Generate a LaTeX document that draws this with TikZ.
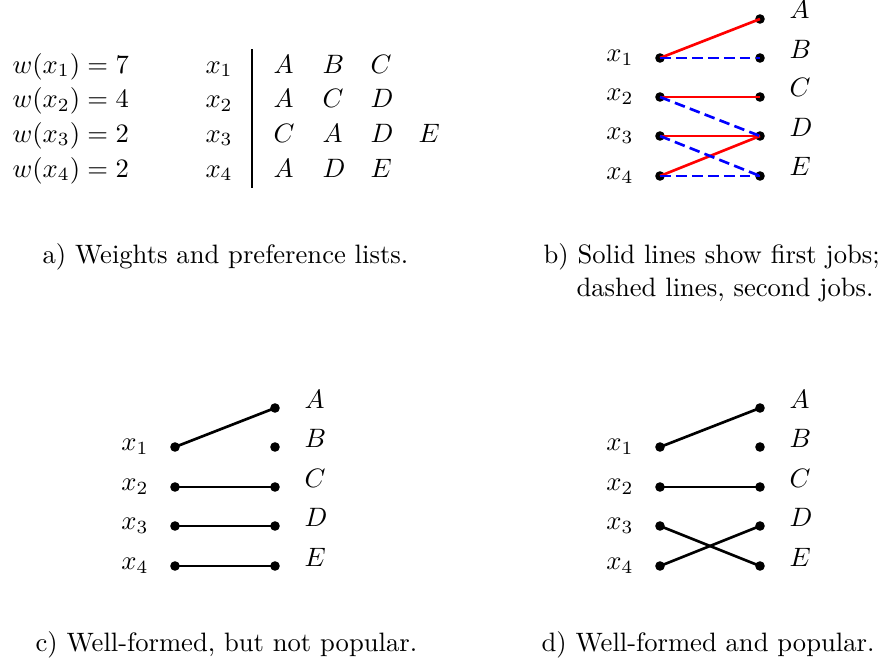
\documentclass[tikz,border=0pt]{standalone}
\begin{document}
\begin{tikzpicture}[x=0.3758pt,y=-0.3758pt,
  txt/.style={inner sep=0pt, anchor=base west},
  ltxt/.style={inner sep=0pt, anchor=base east},
  dot/.style={circle, fill=black, inner sep=0pt, minimum size=3.6pt},
  redline/.style={red, line width=1pt},
  blueline/.style={blue, line width=1pt, dash pattern=on 4pt off 2pt},
  blackline/.style={black, line width=1pt},
  rule/.style={black, line width=0.9pt}]
\useasboundingbox (0,0) rectangle (881,663);

% ---------- panel a ----------
\node[txt] (w1) at (12,73)    {$w(x_1) = 7$};
\node[txt] (w2) at (12,107.5) {$w(x_2) = 4$};
\node[txt] (w3) at (12,142)   {$w(x_3) = 2$};
\node[txt] (w4) at (12,177)   {$w(x_4) = 2$};
\node[txt] (p1) at (205,73)    {$x_1$};
\node[txt] (p2) at (205,107.5) {$x_2$};
\node[txt] (p3) at (205,142)   {$x_3$};
\node[txt] (p4) at (205,177)   {$x_4$};
\coordinate (rtop) at (252,49);
\coordinate (rbot) at (252,188);
\draw[rule] (rtop) -- (rbot);
\node[txt] (l11) at (273,73) {$A$};
\node[txt] (l12) at (322,73) {$B$};
\node[txt] (l13) at (370,73) {$C$};
\node[txt] (l21) at (273,107.5) {$A$};
\node[txt] (l22) at (322,107.5) {$C$};
\node[txt] (l23) at (370,107.5) {$D$};
\node[txt] (l31) at (273,142) {$C$};
\node[txt] (l32) at (322,142) {$A$};
\node[txt] (l33) at (370,142) {$D$};
\node[txt] (l34) at (418,142) {$E$};
\node[txt] (l41) at (273,177) {$A$};
\node[txt] (l42) at (322,177) {$D$};
\node[txt] (l43) at (370,177) {$E$};
\node[txt] (capa) at (42,263) {a) Weights and preference lists.};

% ---------- panel b ----------
\foreach \n/\y in {1/58,2/97,3/136,4/176}{
  \node[dot] (bx\n) at (660,\y) {};
  \node[ltxt] (bxl\n) at (634,\y+3.5) {$x_\n$};
}
\foreach \n/\y in {A/19,B/58,C/97,D/136,E/176}{
  \node[dot] (b\n) at (760,\y) {};
  \node[txt] (bl\n) at (789,\y) {$\n$};
}
\draw[redline] (bx1.center) -- (bA.center);
\draw[redline] (bx2.center) -- (bC.center);
\draw[redline] (bx3.center) -- (bD.center);
\draw[redline] (bx4.center) -- (bD.center);
\draw[blueline] (bx1.center) -- (bB.center);
\draw[blueline] (bx2.center) -- (bD.center);
\draw[blueline] (bx3.center) -- (bE.center);
\draw[blueline] (bx4.center) -- (bE.center);
\node[txt] (capb1) at (543,263) {b) Solid lines show first jobs;};
\node[txt] (capb2) at (576,296) {dashed lines, second jobs.};

% ---------- panel c ----------
\foreach \n/\y in {1/447,2/487,3/526,4/566}{
  \node[dot] (cx\n) at (175,\y) {};
  \node[ltxt] (cxl\n) at (149,\y+3.5) {$x_\n$};
}
\foreach \n/\y in {A/408,B/447,C/487,D/526,E/566}{
  \node[dot] (c\n) at (275,\y) {};
  \node[txt] (cl\n) at (304,\y) {$\n$};
}
\draw[blackline] (cx1.center) -- (cA.center);
\draw[blackline] (cx2.center) -- (cC.center);
\draw[blackline] (cx3.center) -- (cD.center);
\draw[blackline] (cx4.center) -- (cE.center);
\node[txt] (capc) at (35,651) {c) Well-formed, but not popular.};

% ---------- panel d ----------
\foreach \n/\y in {1/447,2/487,3/526,4/566}{
  \node[dot] (dx\n) at (660,\y) {};
  \node[ltxt] (dxl\n) at (634,\y+3.5) {$x_\n$};
}
\foreach \n/\y in {A/408,B/447,C/487,D/526,E/566}{
  \node[dot] (d\n) at (760,\y) {};
  \node[txt] (dl\n) at (789,\y) {$\n$};
}
\draw[blackline] (dx1.center) -- (dA.center);
\draw[blackline] (dx2.center) -- (dC.center);
\draw[blackline] (dx3.center) -- (dE.center);
\draw[blackline] (dx4.center) -- (dD.center);
\node[txt] (capd) at (541,651) {d) Well-formed and popular.};
\end{tikzpicture}
\end{document}
